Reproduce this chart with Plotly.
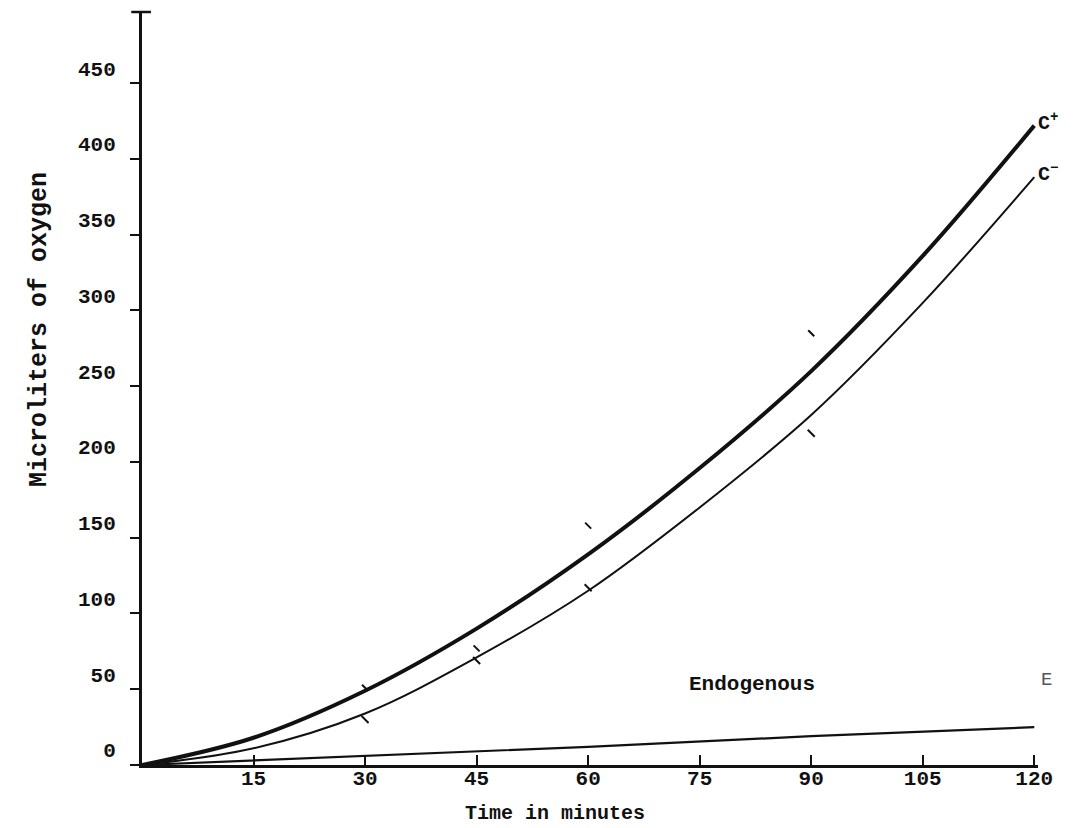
import plotly.graph_objects as go

# ---- data ----
time_min = [0, 15, 30, 45, 60, 75, 90, 105, 120]
c_plus_curve = [0, 18, 49, 90, 139, 196, 260, 336, 422]
c_minus_curve = [0, 11, 34, 71, 115, 170, 231, 305, 388]
endo_time = [0, 30, 60, 90, 120]
endo_curve = [0, 6, 12, 19, 25]

obs_time = [30, 45, 60, 90]
c_plus_obs = [51, 77, 158, 285]
c_minus_obs = [30, 69, 117, 219]

x_ticks = [15, 30, 45, 60, 75, 90, 105, 120]
x_ticktext = ["15", "30", "45", "60", "75", "90", "105", "120"]
y_ticks = [0, 50, 100, 150, 200, 250, 300, 350, 400, 450]
y_ticktext = ["0", "50", "100", "150", "200", "250", "300", "350", "400", "450"]

FONT = "Liberation Mono, Courier New, monospace"
INK = "#111111"

fig = go.Figure()

fig.add_trace(go.Scatter(x=time_min, y=c_plus_curve, mode="lines",
                         line=dict(color=INK, width=4, shape="spline", smoothing=1.0),
                         showlegend=False, hoverinfo="skip"))
fig.add_trace(go.Scatter(x=time_min, y=c_minus_curve, mode="lines",
                         line=dict(color=INK, width=2, shape="spline", smoothing=1.0),
                         showlegend=False, hoverinfo="skip"))
fig.add_trace(go.Scatter(x=endo_time, y=endo_curve, mode="lines",
                         line=dict(color=INK, width=2.2),
                         showlegend=False, hoverinfo="skip"))
fig.add_trace(go.Scatter(x=obs_time, y=c_plus_obs, mode="markers",
                         marker=dict(symbol="line-nw", size=6, color=INK,
                                     line=dict(color=INK, width=2)),
                         showlegend=False, hoverinfo="skip"))
fig.add_trace(go.Scatter(x=obs_time, y=c_minus_obs, mode="markers",
                         marker=dict(symbol="line-nw", size=7, color=INK,
                                     line=dict(color=INK, width=2)),
                         showlegend=False, hoverinfo="skip"))

fig.update_layout(
    width=1080, height=828,
    margin=dict(l=142, r=42, t=12, b=63),
    paper_bgcolor="white", plot_bgcolor="white",
    font=dict(family=FONT, color=INK, size=20),
    xaxis=dict(range=[0, 120.5], showgrid=False, zeroline=False,
               showline=True, linecolor=INK, linewidth=3,
               tickmode="array", tickvals=x_ticks, ticktext=x_ticktext,
               ticks="inside", ticklen=10, tickwidth=2, tickcolor=INK,
               tickfont=dict(family=FONT, size=21, color=INK, weight="bold"),
               ticklabelstandoff=-8),
    yaxis=dict(range=[0, 497], showgrid=False, zeroline=False,
               showline=True, linecolor=INK, linewidth=3,
               tickmode="array", tickvals=y_ticks, ticktext=y_ticktext,
               ticks="outside", ticklen=9, tickwidth=2, tickcolor=INK,
               tickfont=dict(family=FONT, size=21, color=INK, weight="bold"),
               ticklabelstandoff=10, ticklabelshift=-15),
)

# cap at the top of the y axis
fig.add_shape(type="line", xref="paper", yref="paper",
              x0=-0.012, x1=0.010, y0=1, y1=1,
              line=dict(color=INK, width=2.5))

ann_font = dict(family=FONT, size=20, color=INK, weight="bold")
fig.add_annotation(x=120, y=c_plus_curve[-1], text="C<sup>+</sup>", showarrow=False,
                   xanchor="left", xshift=2, yshift=4, font=ann_font)
fig.add_annotation(x=120, y=c_minus_curve[-1], text="C<sup>\u2212</sup>", showarrow=False,
                   xanchor="left", xshift=2, yshift=4, font=ann_font)
fig.add_annotation(x=82.1, y=53, text="Endogenous", showarrow=False,
                   font=dict(family=FONT, size=21, color=INK, weight="bold"))
fig.add_annotation(xref="paper", yref="paper", x=(1054 - 142) / 896, y=(765 - 693) / 753,
                   text="E", showarrow=False,
                   font=dict(family=FONT, size=19, color="#555555"))
fig.add_annotation(xref="paper", yref="paper", x=(555 - 142) / 896, y=-(813 - 765) / 753,
                   yanchor="middle", xanchor="center", text="Time in minutes", showarrow=False,
                   font=dict(family=FONT, size=20, color=INK, weight="bold"))
fig.add_annotation(xref="paper", yref="paper", x=(40 - 142) / 896, y=(765 - 330) / 753,
                   xanchor="center", yanchor="middle",
                   text="Microliters of oxygen", showarrow=False, textangle=-90,
                   font=dict(family=FONT, size=25, color=INK, weight="bold"))

fig.write_html("out.html")
